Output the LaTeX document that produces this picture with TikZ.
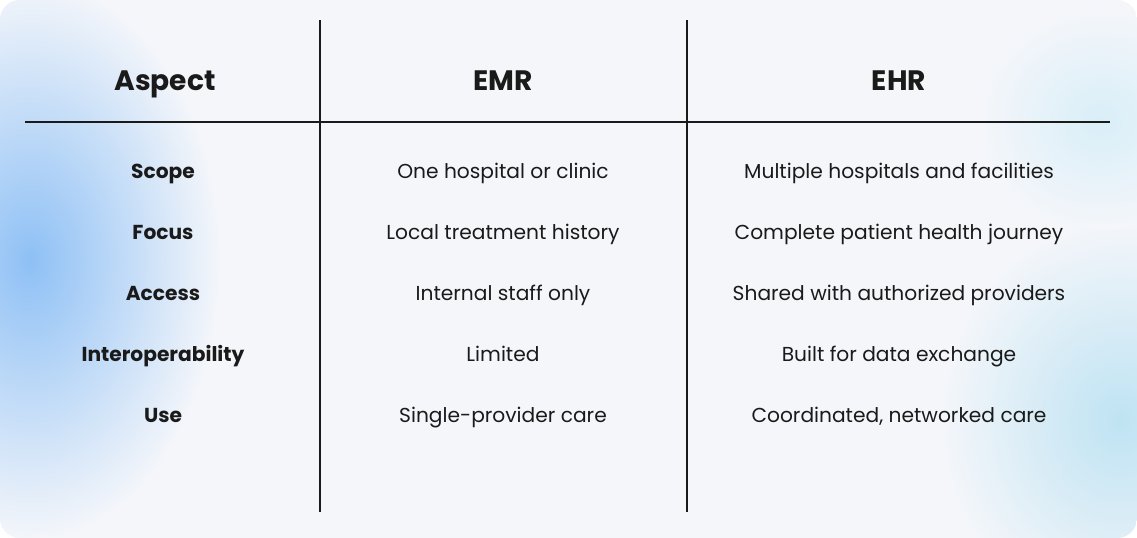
\documentclass[tikz,border=0pt]{standalone}
\usepackage{fontspec}
\setmainfont{Poppins}
\usetikzlibrary{positioning}
\definecolor{bgpanel}{HTML}{F4F6FA}
\definecolor{blobblue}{HTML}{8EC0F5}
\definecolor{blobcyan}{HTML}{BFE3F3}
\definecolor{inkdark}{HTML}{1A1A1A}
\tikzset{
	head/.style={font=\fontsize{16}{18}\selectfont\bfseries, text=inkdark, text height=12pt, text depth=3pt},
	aspect/.style={font=\fontsize{11.5}{13}\selectfont\bfseries, text=inkdark, text height=9pt, text depth=2.5pt},
	cell/.style={font=\fontsize{11.5}{13}\selectfont, text=inkdark, text height=9pt, text depth=2.5pt},
	rule/.style={line width=1.2pt, inkdark},
}
\begin{document}
\begin{tikzpicture}[x=0.02cm,y=-0.02cm]
	% ---------------------
	% Background panel
	\useasboundingbox (0,0) rectangle (1137,538);
	\begin{scope}
		\clip[rounded corners=0.4cm] (0,0) rectangle (1137,538);
		\fill[bgpanel] (0,0) rectangle (1137,538);
		\shade[inner color=blobblue, outer color=bgpanel] (30,260) ellipse (190 and 280);
		\shade[inner color=blobcyan, outer color=bgpanel] (1120,420) ellipse (180 and 200);
		\shade[inner color=blobcyan!60, outer color=bgpanel] (1100,120) ellipse (120 and 110);
	\end{scope}
	
	% ---------------------
	% Rules
	\coordinate (RuleL) at (25,122);
	\coordinate (RuleR) at (1110,122);
	\coordinate (SepATop) at (320,20);
	\coordinate (SepABot) at (320,512);
	\coordinate (SepBTop) at (687,20);
	\coordinate (SepBBot) at (687,512);
	\draw[rule] (RuleL) -- (RuleR);
	\draw[rule] (SepATop) -- (SepABot);
	\draw[rule] (SepBTop) -- (SepBBot);
	
	% ---------------------
	% Header
	\node[head] (hAspect) at (165,83) {Aspect};
	\node[head] (hEMR) at (503,83) {EMR};
	\node[head] (hEHR) at (899,83) {EHR};
	
	% ---------------------
	% Rows
	\foreach \y/\a/\b/\c in {
		173/Scope/One hospital or clinic/Multiple hospitals and facilities,
		234/Focus/Local treatment history/Complete patient health journey,
		295/Access/Internal staff only/Shared with authorized providers,
		356/Interoperability/Limited/Built for data exchange,
		417/Use/Single-provider care/{Coordinated, networked care}}{
		\node[aspect] (a\y) at (163,\y) {\a};
		\node[cell] (e\y) at (503,\y) {\b};
		\node[cell] (h\y) at (899,\y) {\c};
	}
\end{tikzpicture}
\end{document}
